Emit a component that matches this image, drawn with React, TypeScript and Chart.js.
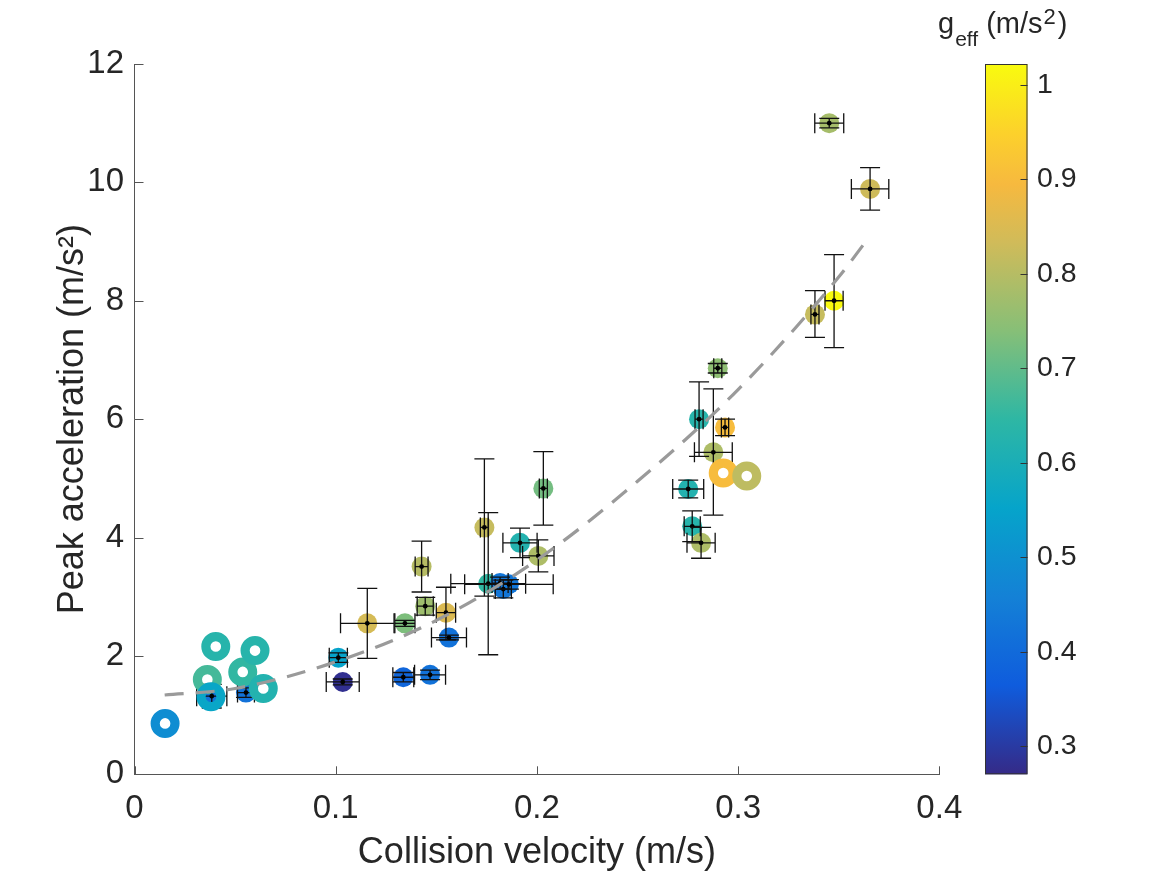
import React, { useEffect, useRef } from 'react';
import { Chart, registerables } from 'chart.js';

Chart.register(...registerables);

// ---- data ----
const velocity = [0.0384, 0.0554, 0.1013, 0.1035, 0.1157, 0.1344, 0.1336, 0.1469, 0.1445, 0.1548, 0.1563, 0.1427, 0.1758, 0.1739, 0.1817, 0.1833, 0.1861, 0.1916, 0.2007, 0.2032, 0.2899, 0.2806, 0.2935, 0.2877, 0.2752, 0.2772, 0.2816, 0.3382, 0.3477, 0.3453, 0.3656];
const accel = [1.32, 1.38, 1.97, 1.56, 2.55, 2.55, 1.64, 1.68, 2.84, 2.73, 2.31, 3.51, 3.22, 4.17, 3.23, 3.13, 3.21, 3.91, 3.69, 4.83, 6.86, 6.0, 5.86, 5.44, 4.82, 4.19, 3.91, 7.77, 8.0, 11.0, 9.89];
const gEff = [0.42, 0.42, 0.55, 0.28, 0.84, 0.73, 0.39, 0.42, 0.77, 0.85, 0.42, 0.8, 0.65, 0.82, 0.43, 0.43, 0.43, 0.62, 0.79, 0.72, 0.75, 0.63, 0.9, 0.79, 0.62, 0.63, 0.79, 0.82, 1.02, 0.78, 0.83];
const velErr = [0.0075, 0.0042, 0.0045, 0.0082, 0.0133, 0.005, 0.0052, 0.0077, 0.004, 0.0048, 0.0087, 0.0032, 0.0186, 0.002, 0.004, 0.004, 0.022, 0.0085, 0.0078, 0.002, 0.002, 0.002, 0.0018, 0.0094, 0.0077, 0.004, 0.007, 0.002, 0.0045, 0.0072, 0.0093];
const accErrLow = [0.2, 0.08, 0.08, 0.05, 0.59, 0.05, 0.08, 0.08, 0.15, 0.46, 0.04, 0.43, 1.2, 1.16, 0.1, 0.15, 0.08, 0.25, 0.27, 0.62, 0.08, 0.63, 0.14, 1.06, 0.15, 0.26, 0.26, 0.39, 0.79, 0.08, 0.36];
const accErrHigh = [0.2, 0.08, 0.08, 0.05, 0.59, 0.05, 0.08, 0.08, 0.15, 0.43, 0.04, 0.43, 1.2, 1.16, 0.1, 0.15, 0.08, 0.25, 0.27, 0.62, 0.08, 0.63, 0.14, 1.07, 0.15, 0.26, 0.26, 0.4, 0.78, 0.08, 0.36];

const ringVelocity = [0.0152, 0.0362, 0.038, 0.0404, 0.0538, 0.0599, 0.064, 0.2926, 0.3043];
const ringAccel = [0.86, 1.6, 1.31, 2.16, 1.73, 2.09, 1.45, 5.09, 5.04];
const ringG = [0.49, 0.67, 0.56, 0.63, 0.65, 0.63, 0.62, 0.9, 0.81];

const fitVelocity = [0.015, 0.05, 0.1, 0.15, 0.2, 0.25, 0.3, 0.35, 0.363];
const fitAccel = [1.34, 1.45, 1.9, 2.6, 3.62, 4.95, 6.5, 8.4, 8.98];

const xTicks = [0, 0.1, 0.2, 0.3, 0.4];
const xTickLabels = ['0', '0.1', '0.2', '0.3', '0.4'];
const yTicks = [0, 2, 4, 6, 8, 10, 12];
const yTickLabels = ['0', '2', '4', '6', '8', '10', '12'];
const gTicks = [0.3, 0.4, 0.5, 0.6, 0.7, 0.8, 0.9, 1.0];
const gTickLabels = ['0.3', '0.4', '0.5', '0.6', '0.7', '0.8', '0.9', '1'];
const G_MIN = 0.2705;
const G_MAX = 1.022;

// parula-like colormap
const cmapPos = [0, 0.125, 0.25, 0.375, 0.5, 0.625, 0.75, 0.83, 0.9, 1];
const cmapCol = ['#352a87', '#0f5cdd', '#1481d6', '#06a4ca', '#2eb7a4', '#87bf77', '#d1bb59', '#f6b93f', '#fcd02c', '#f9fb0e'];

function hexToRgb(h: string) {
  const n = parseInt(h.slice(1), 16);
  return [(n >> 16) & 255, (n >> 8) & 255, n & 255];
}
function colorFor(g: number) {
  let t = (g - G_MIN) / (G_MAX - G_MIN);
  t = Math.max(0, Math.min(1, t));
  let i = 0;
  while (i < cmapPos.length - 2 && t > cmapPos[i + 1]) i++;
  const f = (t - cmapPos[i]) / (cmapPos[i + 1] - cmapPos[i]);
  const a = hexToRgb(cmapCol[i]);
  const b = hexToRgb(cmapCol[i + 1]);
  const c = a.map((v, k) => Math.round(v + (b[k] - v) * f));
  return `rgb(${c[0]},${c[1]},${c[2]})`;
}

const FONT = "'Liberation Sans', Arial, Helvetica, sans-serif";
const TEXT = '#262626';
const AXIS = '#555555';

const decorPlugin = {
  id: 'decor',
  afterDatasetDraw(chart: any, args: any) {
    if (args.index !== 0) return;
    const xs = chart.scales.x;
    const ys = chart.scales.y;
    const c = chart.ctx;
    c.save();
    c.strokeStyle = '#111111';
    c.lineWidth = 1.3;
    const cap = 10;
    for (let i = 0; i < velocity.length; i++) {
      const px = xs.getPixelForValue(velocity[i]);
      const py = ys.getPixelForValue(accel[i]);
      const yt = ys.getPixelForValue(accel[i] + accErrHigh[i]);
      const yb = ys.getPixelForValue(accel[i] - accErrLow[i]);
      const xl = xs.getPixelForValue(velocity[i] - velErr[i]);
      const xr = xs.getPixelForValue(velocity[i] + velErr[i]);
      c.beginPath();
      c.moveTo(px, yt); c.lineTo(px, yb);
      c.moveTo(px - cap, yt); c.lineTo(px + cap, yt);
      c.moveTo(px - cap, yb); c.lineTo(px + cap, yb);
      c.moveTo(xl, py); c.lineTo(xr, py);
      c.moveTo(xl, py - cap); c.lineTo(xl, py + cap);
      c.moveTo(xr, py - cap); c.lineTo(xr, py + cap);
      c.stroke();
      c.fillStyle = '#000000';
      c.beginPath();
      c.arc(px, py, 2.4, 0, Math.PI * 2);
      c.fill();
    }
    c.restore();
  },
  afterDraw(chart: any) {
    const c = chart.ctx;
    const xs = chart.scales.x;
    const ys = chart.scales.y;
    const gs = chart.scales.g;
    const area = chart.chartArea;
    c.save();
    // inward ticks
    c.strokeStyle = AXIS;
    c.lineWidth = 1;
    c.beginPath();
    xTicks.forEach((v) => {
      const p = Math.round(xs.getPixelForValue(v)) + 0.5;
      c.moveTo(p, area.bottom);
      c.lineTo(p, area.bottom - 8);
    });
    yTicks.forEach((v) => {
      const p = Math.round(ys.getPixelForValue(v)) + 0.5;
      c.moveTo(area.left, p);
      c.lineTo(area.left + 9, p);
    });
    c.stroke();

    // colorbar
    const cbLeft = area.right + 45.7;
    const cbRight = area.right + 88.2;
    const top = gs.getPixelForValue(G_MAX);
    const bot = gs.getPixelForValue(G_MIN);
    const grad = c.createLinearGradient(0, bot, 0, top);
    cmapPos.forEach((p, i) => grad.addColorStop(p, cmapCol[i]));
    c.fillStyle = grad;
    c.fillRect(cbLeft, top, cbRight - cbLeft, bot - top);
    c.strokeStyle = '#333333';
    c.lineWidth = 1;
    c.strokeRect(cbLeft + 0.5, top + 0.5, cbRight - cbLeft - 1, bot - top - 1);
    c.beginPath();
    gTicks.forEach((v) => {
      const p = Math.round(gs.getPixelForValue(v)) + 0.5;
      c.moveTo(cbRight - 7, p);
      c.lineTo(cbRight, p);
    });
    c.stroke();

    // colorbar title: g_eff (m/s^2)
    c.fillStyle = TEXT;
    c.textBaseline = 'alphabetic';
    c.textAlign = 'left';
    let tx = cbLeft - 47;
    c.font = `29px ${FONT}`;
    c.fillText('g', tx, 33);
    tx += c.measureText('g').width + 1;
    c.font = `21px ${FONT}`;
    c.fillText('eff', tx, 46);
    tx += c.measureText('eff').width;
    c.font = `29px ${FONT}`;
    c.fillText(' (m/s', tx, 33);
    tx += c.measureText(' (m/s').width + 1;
    c.font = `22px ${FONT}`;
    c.fillText('2', tx, 24);
    tx += c.measureText('2').width + 2;
    c.font = `29px ${FONT}`;
    c.fillText(')', tx, 33);
    c.restore();
  },
};

export default function App() {
  const ref = useRef<HTMLCanvasElement>(null);
  useEffect(() => {
    const prev = document.body.style.margin;
    document.body.style.margin = '0';
    const canvas = ref.current as HTMLCanvasElement;
    Chart.defaults.font.family = FONT;
    const chart = new Chart(canvas, {
      type: 'scatter',
      data: {
        datasets: [
          {
            label: 'measured',
            data: velocity.map((v, i) => ({ x: v, y: accel[i] })),
            pointRadius: 10,
            pointHoverRadius: 10,
            pointBorderWidth: 0,
            pointBackgroundColor: gEff.map(colorFor),
            backgroundColor: gEff.map(colorFor),
            order: 3,
          } as any,
          {
            label: 'rings',
            data: ringVelocity.map((v, i) => ({ x: v, y: ringAccel[i] })),
            pointRadius: 9.9,
            pointHoverRadius: 9.9,
            pointBorderWidth: 9.2,
            pointBorderColor: ringG.map(colorFor),
            pointBackgroundColor: 'rgba(0,0,0,0)',
            order: 2,
          } as any,
          {
            label: 'fit',
            data: fitVelocity.map((v, i) => ({ x: v, y: fitAccel[i] })),
            showLine: true,
            pointRadius: 0,
            borderColor: '#9a9a9a',
            borderWidth: 3.2,
            borderDash: [19, 12],
            cubicInterpolationMode: 'monotone',
            fill: false,
            order: 1,
          } as any,
        ],
      },
      options: {
        responsive: false,
        animation: false,
        events: [],
        layout: { padding: { top: 64, left: 0, right: 0, bottom: 0 } },
        plugins: { legend: { display: false }, tooltip: { enabled: false } },
        scales: {
          x: {
            type: 'linear',
            position: 'bottom',
            min: 0,
            max: 0.4,
            afterBuildTicks: (s: any) => { s.ticks = xTicks.map((v) => ({ value: v })); },
            afterFit: (s: any) => { s.height = 100.7; s.paddingLeft = 0; s.paddingRight = 0; },
            grid: { display: false, drawTicks: false },
            border: { display: true, color: AXIS, width: 1 },
            ticks: {
              autoSkip: false,
              maxRotation: 0,
              padding: 14.5,
              color: TEXT,
              font: { size: 33 },
              callback: (v: any) => xTickLabels[xTicks.indexOf(Number(v))] ?? '',
            },
            title: {
              display: true,
              text: 'Collision velocity (m/s)',
              color: TEXT,
              font: { size: 36 },
              padding: { top: 0, bottom: 0 },
            },
          },
          y: {
            type: 'linear',
            position: 'left',
            min: 0,
            max: 12,
            afterBuildTicks: (s: any) => { s.ticks = yTicks.map((v) => ({ value: v })); },
            afterFit: (s: any) => { s.width = 134.5; s.paddingTop = 0; s.paddingBottom = 0; },
            grid: { display: false, drawTicks: false },
            border: { display: true, color: AXIS, width: 1 },
            ticks: {
              autoSkip: false,
              padding: 10.5,
              color: TEXT,
              font: { size: 33 },
              callback: (v: any) => yTickLabels[yTicks.indexOf(Number(v))] ?? '',
            },
            title: {
              display: true,
              text: 'Peak acceleration (m/s²)',
              color: TEXT,
              font: { size: 36 },
              padding: { top: 51, bottom: 0 },
            },
          },
          g: {
            type: 'linear',
            position: 'right',
            min: G_MIN,
            max: G_MAX,
            afterBuildTicks: (s: any) => { s.ticks = gTicks.map((v) => ({ value: v })); },
            afterFit: (s: any) => { s.width = 227.7; s.paddingTop = 0; s.paddingBottom = 0; },
            grid: { display: false, drawTicks: false },
            border: { display: false },
            ticks: {
              autoSkip: false,
              padding: 97.7,
              color: TEXT,
              font: { size: 28.5 },
              callback: (v: any) => {
                const idx = gTicks.findIndex((t) => Math.abs(t - Number(v)) < 1e-9);
                return idx >= 0 ? gTickLabels[idx] : '';
              },
            },
          },
        },
      } as any,
      plugins: [decorPlugin],
    });
    return () => {
      chart.destroy();
      document.body.style.margin = prev;
    };
  }, []);
  return (
    <div style={{ position: 'relative', width: 1167, height: 875 }}>
      <canvas ref={ref} width={1167} height={875} style={{ display: 'block', width: 1167, height: 875 }} />
    </div>
  );
}
